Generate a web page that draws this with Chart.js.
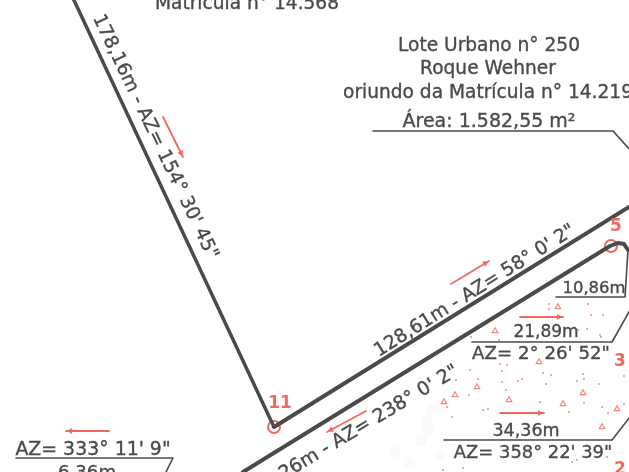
<!DOCTYPE html>
<html><head><meta charset="utf-8">
<script src="https://cdn.jsdelivr.net/npm/chart.js@4"></script>
<style>html,body{margin:0;padding:0;background:#fff;overflow:hidden}canvas{display:block}</style>
</head><body><canvas id="c" width="629" height="472"></canvas>
<script>
// Survey plan, values are in plan units (east, south)
const boundaryWest = [[72,-4],[274,427]];
const boundaryNorth = [[274,427],[629,207]];
const boundaryInner = [[243,472],[610,246],[618,243],[624,244],[628,250]];
const leaderArea = [[373,131],[613,131],[632,152]];
const leader1086 = [[556,297],[625,297],[628,250]];
const leader2189 = [[472,342],[612,342],[630,310]];
const leader3436 = [[444,440],[612,440],[630,417]];
const leader636 = [[16,458],[173,458],[165,474]];
const arrowSegments = [
  [[163,117],[183,157]],
  [[451,284],[489,261]],
  [[520,317],[563,317]],
  [[500,413],[544,413]],
  [[109,431],[66,431]],
  [[366,411],[327,432]]
];
const vertexMarks = [[274,427],[611,246]];
const speckDots = [[549,304],[549,309],[588,304],[591,315],[603,315],[587,329],[601,337],[471,337],[499,340],[500,364],[507,365],[502,371],[470,370],[543,373],[551,375],[583,374],[584,379],[522,379],[518,381],[478,379],[502,382],[546,384],[577,381],[506,390],[599,384],[624,376],[469,395],[447,407],[483,410],[488,409],[540,402],[569,412],[584,403],[608,413],[602,407],[624,404],[452,417],[456,380],[577,460],[463,468],[443,470],[607,457],[572,462],[578,330],[600,335]];
const speckTriangles = [[558,307],[495,331],[539,362],[477,387],[455,395],[509,400],[583,393],[563,404],[617,409],[602,427],[444,402]];
const smudgeDots = [[427,420],[432,410],[428,430],[421,441],[440,405],[395,452],[410,462],[440,455]];
const textLabels = ["Matrícula n° 14.568","Lote Urbano n° 250","Roque Wehner","Área: 1.582,55 m²","178,16m - AZ= 154° 30' 45\"","128,61m - AZ= 58° 0' 2\"","26m - AZ= 238° 0' 2\"","10,86m","21,89m","AZ= 2° 26' 52\"","34,36m","AZ= 358° 22' 39\"","AZ= 333° 11' 9\"","6,36m"];
const textX = [247,489,488,489,155,475,369,594,546,541,526,533,93,87];
const textY = [4,46,69,122,137,291,423,289,333,354,431,453,450,473];
const textAngle = [0,0,0,0,64.5,-32,-31,0,0,0,0,0,0,0];
const textSize = [18.6,18.6,18.6,19,18.8,18.8,19,16.4,17,18.2,17.5,17.9,18.9,18.2];
const cutLabel = "oriundo da Matrícula n° 14.219";
const redLabels = ["11","5","3","2"];
const redX = [280,616,620,620];
const redY = [404,227,362,470];

const ink = '#4a4a4a', red = '#f0695f';
const toXY = a => a.map(p => ({x:p[0],y:p[1]}));
const line = (pts,w,col=ink) => ({type:'line',data:toXY(pts),borderColor:col,borderWidth:w,pointRadius:0,fill:false,tension:0,borderJoinStyle:'round',borderCapStyle:'round'});
const datasets = [
  {type:'scatter',data:toXY(smudgeDots),pointRadius:6,pointBackgroundColor:'rgba(150,150,150,0.05)',pointBorderWidth:0},
  line(boundaryWest,3.5), line(boundaryNorth,4), line(boundaryInner,4),
  line(leaderArea,1.6), line(leader1086,1.6), line(leader2189,1.6), line(leader3436,1.6), line(leader636,1.6)
];
arrowSegments.forEach(s => {
  datasets.push(line(s,1.8,red));
  const ang = Math.atan2(s[1][1]-s[0][1],s[1][0]-s[0][0])*180/Math.PI+90;
  const m = [s[0][0]*0.1+s[1][0]*0.9, s[0][1]*0.1+s[1][1]*0.9];
  datasets.push({type:'scatter',data:toXY([m]),pointStyle:'triangle',pointRotation:ang,pointRadius:3.5,pointBackgroundColor:red,pointBorderWidth:0});
});
datasets.push({type:'scatter',data:toXY(speckDots),pointRadius:1,pointBackgroundColor:'#f58a80',pointBorderWidth:0});
datasets.push({type:'scatter',data:toXY(speckTriangles),pointStyle:'triangle',pointRadius:3.2,pointBackgroundColor:'rgba(255,255,255,0.3)',pointBorderColor:'#f58a80',pointBorderWidth:1.2});
datasets.push({type:'scatter',data:toXY(vertexMarks),pointRadius:6,pointBackgroundColor:'rgba(0,0,0,0)',pointBorderColor:red,pointBorderWidth:2});

const textPlugin = {id:'planText',afterDatasetsDraw(chart){
  const {ctx,scales:{x,y}} = chart;
  ctx.save();
  ctx.beginPath();ctx.rect(0,0,chart.width,chart.height);ctx.clip();
  ctx.textBaseline='middle';
  ctx.fillStyle=ink;ctx.strokeStyle=ink;ctx.lineWidth=0.35;ctx.textAlign='center';
  textLabels.forEach((t,i)=>{
    ctx.save();
    ctx.font=textSize[i]+'px "DejaVu Sans"';
    ctx.translate(x.getPixelForValue(textX[i]),y.getPixelForValue(textY[i]));
    ctx.rotate(textAngle[i]*Math.PI/180);
    ctx.fillText(t,0,0);ctx.strokeText(t,0,0);
    ctx.restore();
  });
  ctx.textAlign='left';
  ctx.font='18.6px "DejaVu Sans"';
  ctx.fillText(cutLabel,x.getPixelForValue(343),y.getPixelForValue(93));
  ctx.strokeText(cutLabel,x.getPixelForValue(343),y.getPixelForValue(93));
  ctx.textAlign='center';
  ctx.fillStyle=red;
  ctx.font='bold 17px "DejaVu Sans"';
  redLabels.forEach((t,i)=>ctx.fillText(t,x.getPixelForValue(redX[i]),y.getPixelForValue(redY[i])));
  ctx.restore();
}};
new Chart(document.getElementById('c'),{
  data:{datasets},
  plugins:[textPlugin],
  options:{
    responsive:false,animation:false,devicePixelRatio:1,
    layout:{padding:0,autoPadding:false},
    plugins:{legend:{display:false},tooltip:{enabled:false}},
    scales:{
      x:{type:'linear',min:0,max:629,display:false},
      y:{type:'linear',min:0,max:472,reverse:true,display:false}
    }
  }
});
</script></body></html>
